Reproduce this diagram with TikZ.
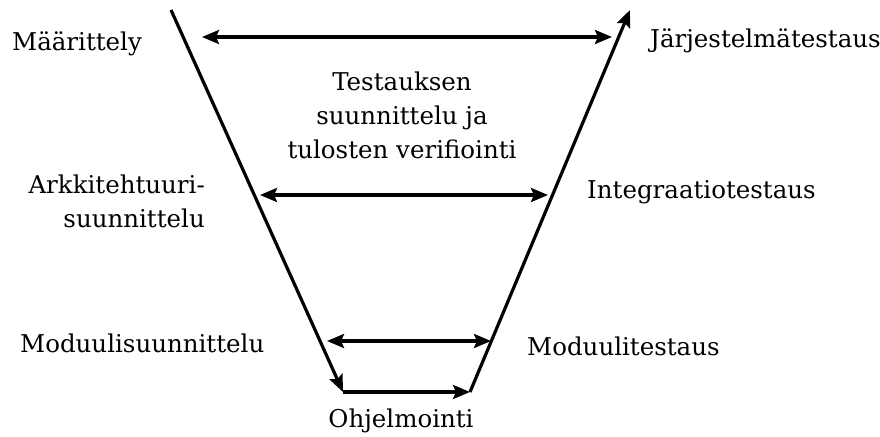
\documentclass[tikz,border=0pt]{standalone}
\usepackage{fontspec}
\setmainfont{DejaVu Serif}
\usetikzlibrary{arrows.meta}

\begin{document}
\begin{tikzpicture}[x=100pt,y=-100pt,
    lbl/.style={inner sep=0pt, font=\fontsize{24.5}{34}\selectfont},
    vline/.style={line width=3.2pt, -{Stealth[length=17pt,width=14pt,inset=3pt]}},
    twoway/.style={line width=3.2pt, {Stealth[length=17pt,width=14pt,inset=3pt]}-{Stealth[length=17pt,width=14pt,inset=3pt]}}]
  \useasboundingbox (0.00, 0.00) rectangle (8.80, 4.36);

  % the V
  \coordinate (VTopL) at (1.71, 0.10);
  \coordinate (VBotL) at (3.43, 3.92);
  \coordinate (VBotR) at (4.70, 3.92);
  \coordinate (VTopR) at (6.30, 0.10);
  \draw[vline] (VTopL) -- (VBotL);
  \draw[vline] (VBotL) -- (VBotR);
  \draw[vline] (VBotR) -- (VTopR);

  % two way arrows
  \coordinate (A1) at (2.02, 0.37);
  \coordinate (B1) at (6.12, 0.37);
  \coordinate (A2) at (2.60, 1.95);
  \coordinate (B2) at (5.48, 1.95);
  \coordinate (A3) at (3.27, 3.41);
  \coordinate (B3) at (4.91, 3.41);
  \draw[twoway] (A1) -- (B1);
  \draw[twoway] (A2) -- (B2);
  \draw[twoway] (A3) -- (B3);

  % labels
  \node[lbl, anchor=base west] (maar) at (0.12, 0.51) {Määrittely};
  \node[lbl, anchor=base west] (jarj) at (6.50, 0.48) {Järjestelmätestaus};
  \node[lbl, anchor=base, align=center] (test) at (4.02, 1.58)
    {Testauksen\\suunnittelu ja\\tulosten verifiointi};
  \node[lbl, anchor=base east, align=right] (arkk) at (2.05, 2.27)
    {Arkkitehtuuri-\\suunnittelu};
  \node[lbl, anchor=base west] (integ) at (5.87, 1.98) {Integraatiotestaus};
  \node[lbl, anchor=base west] (modsu) at (0.20, 3.52) {Moduulisuunnittelu};
  \node[lbl, anchor=base west] (modte) at (5.27, 3.55) {Moduulitestaus};
  \node[lbl, anchor=base] (ohj) at (4.01, 4.27) {Ohjelmointi};
\end{tikzpicture}
\end{document}
